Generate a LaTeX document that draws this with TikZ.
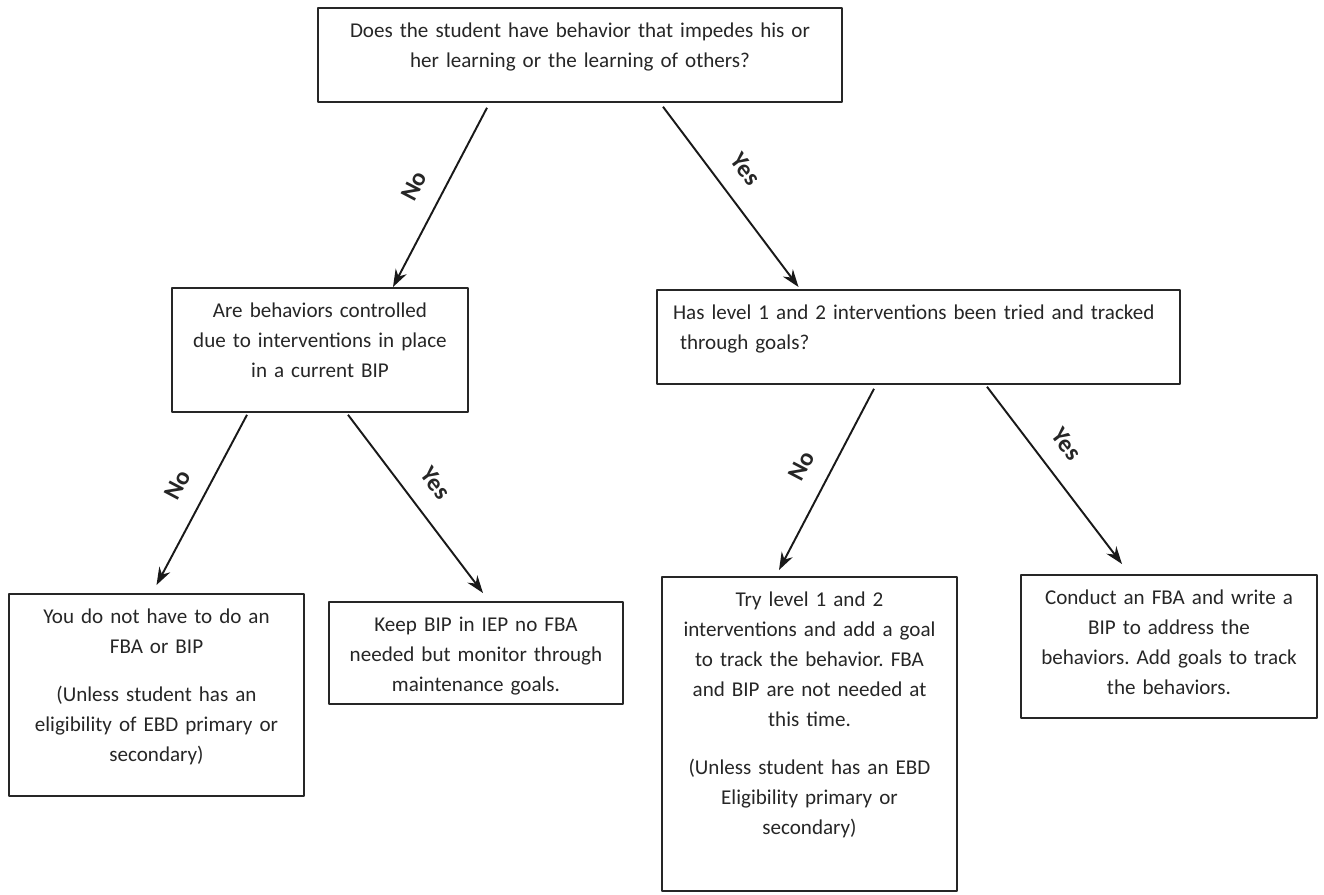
\documentclass[tikz,border=0pt]{standalone}
\usepackage{fontspec}
\setmainfont{Carlito}
\frenchspacing
\usetikzlibrary{arrows.meta}
\tikzset{
  box/.style={draw=black!85, line width=1.1pt, anchor=north, align=center,
    inner xsep=0pt, inner ysep=0pt, text height=17pt, text=black!85,
    font=\fontsize{12}{17.07}\selectfont},
  arr/.style={line width=1.1pt, black!90, -{Stealth[length=10pt,width=7pt]}},
  lbl/.style={sloped, above=9pt, inner sep=2pt, text=black!85, font=\fontsize{14}{16}\selectfont\bfseries},
}
\begin{document}
\begin{tikzpicture}[x=0.02cm, y=-0.02cm, line join=round]
\useasboundingbox (0,0) rectangle (1324,894);
% questions
\node[box, text width=10.48cm, text depth=36.4pt] (q1) at (580,7)
  {Does the student have behavior that impedes his or\\ her learning or the learning of others?};
\node[box, text width=5.92cm, text depth=53.5pt] (q2) at (320,287)
  {Are behaviors controlled\\ due to interventions in place\\ in a current BIP};
\node[box, align=left, inner xsep=9pt, text width=9.82cm, text depth=36.4pt] (q3) at (918.5,289)
  {Has level 1 and 2 interventions been tried and tracked\\ \ through goals?};
% answers
\node[box, text width=5.9cm, text depth=97.9pt] (a1) at (156.5,593)
  {You do not have to do an\\ FBA or BIP\\[10pt] (Unless student has an\\ eligibility of EBD primary or\\ secondary)};
\node[box, text width=5.88cm, text depth=41pt] (a2) at (476,601)
  {Keep BIP in IEP no FBA\\ needed but monitor through\\ maintenance goals.};
\node[box, text width=5.9cm, text depth=161.6pt] (a3) at (809.5,576)
  {Try level 1 and 2\\ interventions and add a goal\\ to track the behavior. FBA\\ and BIP are not needed at\\ this time.\\[10pt] (Unless student has an EBD\\ Eligibility primary or\\ secondary)};
\node[box, text width=5.92cm, text depth=64.3pt] (a4) at (1169,574)
  {Conduct an FBA and write a\\ BIP to address the\\ behaviors. Add goals to track\\ the behaviors.};
% arrows
\draw[arr] ([shift={(-93,5)}]q1.south) -- ([shift={(73,0)}]q2.north) node[lbl, pos=0.51]{No};
\draw[arr] ([shift={(83,4)}]q1.south) -- ([shift={(-120,-2)}]q3.north) node[lbl, pos=0.44]{Yes};
\draw[arr] ([shift={(-73,2)}]q2.south) -- ([shift={(0,-8)}]a1.north) node[lbl, pos=0.49]{No};
\draw[arr] ([shift={(28,2)}]q2.south) -- ([shift={(7,-8)}]a2.north) node[lbl, pos=0.48]{Yes};
\draw[arr] ([shift={(-44.5,4)}]q3.south) -- ([shift={(-30.5,-6)}]a3.north) node[lbl, pos=0.5]{No};
\draw[arr] ([shift={(68.5,2)}]q3.south) -- ([shift={(-47,-10)}]a4.north) node[lbl, pos=0.42]{Yes};
\end{tikzpicture}
\end{document}
